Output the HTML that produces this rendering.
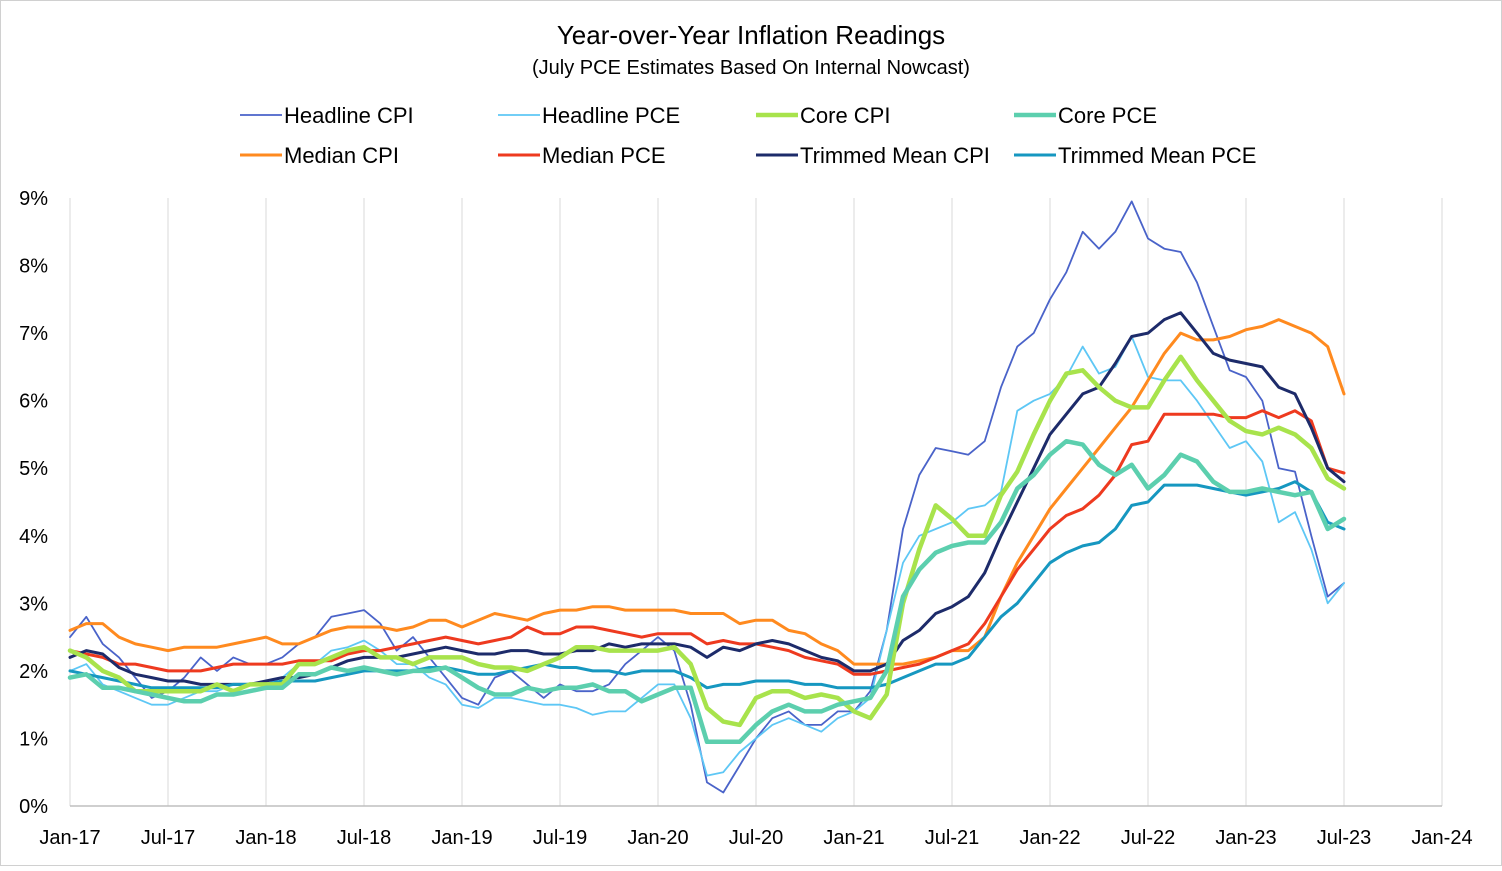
<!DOCTYPE html>
<html><head><meta charset="utf-8"><style>
body{margin:0;background:#fff;}
svg text{font-family:"Liberation Sans",sans-serif;fill:#000;}
</style></head><body>
<svg id="chart" width="1502" height="866">
<rect x="0.5" y="0.5" width="1501" height="865" fill="#fff" stroke="#d0d0d0"/>
<text x="751" y="44" font-size="26" text-anchor="middle">Year-over-Year Inflation Readings</text>
<text x="751" y="74" font-size="20" text-anchor="middle">(July PCE Estimates Based On Internal Nowcast)</text>
<g id="grid"></g>
<g id="axes"></g>
<g id="series"></g>
<g id="legend"></g>
</svg>
<script>
const xTickLabels=["Jan-17","Jul-17","Jan-18","Jul-18","Jan-19","Jul-19","Jan-20","Jul-20","Jan-21","Jul-21","Jan-22","Jul-22","Jan-23","Jul-23","Jan-24"];
const yTickLabels=["0%","1%","2%","3%","4%","5%","6%","7%","8%","9%"];
const headlineCPI=[2.5,2.8,2.4,2.2,1.9,1.6,1.7,1.9,2.2,2.0,2.2,2.1, 2.1,2.2,2.4,2.5,2.8,2.85,2.9,2.7,2.3,2.5,2.2,1.9, 1.6,1.5,1.9,2.0,1.8,1.6,1.8,1.7,1.7,1.8,2.1,2.3, 2.5,2.3,1.5,0.35,0.2,0.6,1.0,1.3,1.4,1.2,1.2,1.4, 1.4,1.7,2.6,4.1,4.9,5.3,5.25,5.2,5.4,6.2,6.8,7.0, 7.5,7.9,8.5,8.25,8.5,8.95,8.4,8.25,8.2,7.75,7.1,6.45, 6.35,6.0,5.0,4.95,4.0,3.1,3.3];
const headlinePCE=[2.0,2.1,1.8,1.7,1.6,1.5,1.5,1.6,1.7,1.7,1.8,1.8, 1.8,1.9,2.1,2.1,2.3,2.35,2.45,2.3,2.1,2.1,1.9,1.8, 1.5,1.45,1.6,1.6,1.55,1.5,1.5,1.45,1.35,1.4,1.4,1.6, 1.8,1.8,1.3,0.45,0.5,0.8,1.0,1.2,1.3,1.2,1.1,1.3, 1.4,1.6,2.6,3.6,4.0,4.1,4.2,4.4,4.45,4.65,5.85,6.0, 6.1,6.35,6.8,6.4,6.5,6.95,6.35,6.3,6.3,6.0,5.65,5.3, 5.4,5.1,4.2,4.35,3.8,3.0,3.3];
const coreCPI=[2.3,2.2,2.0,1.9,1.7,1.7,1.7,1.7,1.7,1.8,1.7,1.8, 1.8,1.8,2.1,2.1,2.2,2.3,2.35,2.2,2.2,2.1,2.2,2.2, 2.2,2.1,2.05,2.05,2.0,2.1,2.2,2.35,2.35,2.3,2.3,2.3, 2.3,2.35,2.1,1.45,1.25,1.2,1.6,1.7,1.7,1.6,1.65,1.6, 1.4,1.3,1.65,3.0,3.8,4.45,4.25,4.0,4.0,4.6,4.95,5.5, 6.0,6.4,6.45,6.2,6.0,5.9,5.9,6.3,6.65,6.3,6.0,5.7, 5.55,5.5,5.6,5.5,5.3,4.85,4.7];
const corePCE=[1.9,1.95,1.75,1.75,1.7,1.65,1.6,1.55,1.55,1.65,1.65,1.7, 1.75,1.75,1.95,1.95,2.05,2.0,2.05,2.0,1.95,2.0,2.0,2.05, 1.9,1.75,1.65,1.65,1.75,1.7,1.75,1.75,1.8,1.7,1.7,1.55, 1.65,1.75,1.75,0.95,0.95,0.95,1.2,1.4,1.5,1.4,1.4,1.5, 1.55,1.6,2.0,3.1,3.5,3.75,3.85,3.9,3.9,4.2,4.7,4.9, 5.2,5.4,5.35,5.05,4.9,5.05,4.7,4.9,5.2,5.1,4.8,4.65, 4.65,4.7,4.65,4.6,4.65,4.1,4.25];
const medianCPI=[2.6,2.7,2.7,2.5,2.4,2.35,2.3,2.35,2.35,2.35,2.4,2.45, 2.5,2.4,2.4,2.5,2.6,2.65,2.65,2.65,2.6,2.65,2.75,2.75, 2.65,2.75,2.85,2.8,2.75,2.85,2.9,2.9,2.95,2.95,2.9,2.9, 2.9,2.9,2.85,2.85,2.85,2.7,2.75,2.75,2.6,2.55,2.4,2.3, 2.1,2.1,2.1,2.1,2.15,2.2,2.3,2.3,2.5,3.1,3.6,4.0, 4.4,4.7,5.0,5.3,5.6,5.9,6.3,6.7,7.0,6.9,6.9,6.95, 7.05,7.1,7.2,7.1,7.0,6.8,6.1];
const medianPCE=[2.3,2.25,2.2,2.1,2.1,2.05,2.0,2.0,2.0,2.05,2.1,2.1, 2.1,2.1,2.15,2.15,2.15,2.25,2.3,2.3,2.35,2.4,2.45,2.5, 2.45,2.4,2.45,2.5,2.65,2.55,2.55,2.65,2.65,2.6,2.55,2.5, 2.55,2.55,2.55,2.4,2.45,2.4,2.4,2.35,2.3,2.2,2.15,2.1, 1.95,1.95,2.0,2.05,2.1,2.2,2.3,2.4,2.7,3.1,3.5,3.8, 4.1,4.3,4.4,4.6,4.9,5.35,5.4,5.8,5.8,5.8,5.8,5.75, 5.75,5.85,5.75,5.85,5.7,5.0,4.93];
const trimmedCPI=[2.2,2.3,2.25,2.05,1.95,1.9,1.85,1.85,1.8,1.8,1.8,1.8, 1.85,1.9,1.9,1.95,2.05,2.15,2.2,2.2,2.2,2.25,2.3,2.35, 2.3,2.25,2.25,2.3,2.3,2.25,2.25,2.3,2.3,2.4,2.35,2.4, 2.4,2.4,2.35,2.2,2.35,2.3,2.4,2.45,2.4,2.3,2.2,2.15, 2.0,2.0,2.1,2.45,2.6,2.85,2.95,3.1,3.45,4.0,4.5,5.0, 5.5,5.8,6.1,6.2,6.55,6.95,7.0,7.2,7.3,7.0,6.7,6.6, 6.55,6.5,6.2,6.1,5.6,5.0,4.8];
const trimmedPCE=[2.0,1.95,1.9,1.85,1.8,1.75,1.75,1.75,1.75,1.75,1.8,1.8, 1.8,1.85,1.85,1.85,1.9,1.95,2.0,2.0,2.0,2.0,2.05,2.05, 2.0,1.95,1.95,2.0,2.05,2.1,2.05,2.05,2.0,2.0,1.95,2.0, 2.0,2.0,1.9,1.75,1.8,1.8,1.85,1.85,1.85,1.8,1.8,1.75, 1.75,1.75,1.8,1.9,2.0,2.1,2.1,2.2,2.5,2.8,3.0,3.3, 3.6,3.75,3.85,3.9,4.1,4.45,4.5,4.75,4.75,4.75,4.7,4.65, 4.6,4.65,4.7,4.8,4.65,4.2,4.1];
const seriesNames=["Headline CPI","Headline PCE","Core CPI","Core PCE","Median CPI","Median PCE","Trimmed Mean CPI","Trimmed Mean PCE"];

const NS="http://www.w3.org/2000/svg";
const X0=70,MW=98/6,Y0=806,YU=(806-198)/9;
const xScale=m=>X0+m*MW;
const yScale=v=>Y0-v*YU;
function mk(tag,attrs,parent){const e=document.createElementNS(NS,tag);for(const k in attrs)e.setAttribute(k,attrs[k]);parent.appendChild(e);return e;}
const grid=document.getElementById('grid'),axes=document.getElementById('axes'),ser=document.getElementById('series'),leg=document.getElementById('legend');
xTickLabels.forEach((lab,i)=>{
  const x=xScale(i*6);
  const l=mk('line',{x1:x,x2:x,y1:198,y2:Y0,stroke:'#d9d9d9','stroke-width':1},grid);
  
  
  const t=mk('text',{x:x,y:844,'font-size':20,'text-anchor':'middle'},axes);
  t.textContent=lab;
  
  
});
yTickLabels.forEach((lab,i)=>{
  const t=mk('text',{x:48,y:yScale(i)+7,'font-size':20,'text-anchor':'end'},axes);
  t.textContent=lab;
  
  
});
const ax=mk('line',{x1:X0,x2:1442,y1:Y0,y2:Y0,stroke:'#bfbfbf','stroke-width':1.5},axes);



const defs=[
 {d:headlineCPI,c:'#4a63c9',w:1.8},
 {d:headlinePCE,c:'#5ec7f5',w:1.8},
 {d:medianCPI,c:'#ff8a1f',w:3},
 {d:medianPCE,c:'#ee3a1f',w:3},
 {d:trimmedCPI,c:'#1d2b6a',w:3},
 {d:trimmedPCE,c:'#1697c0',w:3},
 {d:coreCPI,c:'#a8e34c',w:4.5},
 {d:corePCE,c:'#5ccfae',w:4.5}
];
const order=[0,1,6,7,2,3,4,5];
defs.forEach((s,i)=>{
  const pts=s.d.map((v,m)=>xScale(m).toFixed(1)+','+yScale(v).toFixed(1)).join(' ');
  const p=mk('polyline',{points:pts,fill:'none',stroke:s.c,'stroke-width':s.w,'stroke-linejoin':'round','stroke-linecap':'round'},ser);
  
  
});
const legColors=['#4a63c9','#5ec7f5','#a8e34c','#5ccfae','#ff8a1f','#ee3a1f','#1d2b6a','#1697c0'];
const legW=[1.8,1.8,4.5,4.5,3,3,3,3];
seriesNames.forEach((n,i)=>{
  const col=i%4,row=Math.floor(i/4);
  const x=240+col*258,y=115+row*40;
  const g=mk('g',{},leg);
  
  
  mk('line',{x1:x,x2:x+42,y1:y,y2:y,stroke:legColors[i],'stroke-width':legW[i]},g);
  const t=mk('text',{x:x+44,y:y+8,'font-size':22},g);
  t.textContent=n;
});
</script>
</body></html>
